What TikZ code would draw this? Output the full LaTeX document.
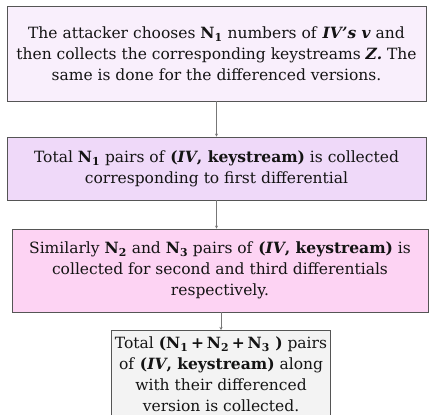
\documentclass[tikz,border=0pt]{standalone}
\usepackage{fontspec}
\setmainfont{DejaVu Serif}
\usetikzlibrary{arrows.meta}
\definecolor{boxA}{HTML}{F9EFFC}
\definecolor{boxB}{HTML}{EFD9F9}
\definecolor{boxC}{HTML}{FDD3F3}
\definecolor{boxD}{HTML}{F3F3F3}
\definecolor{edge}{HTML}{555555}
\newcommand{\Nsub}[1]{\textbf{N\textsubscript{#1}}}
\newcommand{\tplus}{\hspace{0.18em}+\hspace{0.18em}}
\tikzset{
  stepbox/.style={draw=edge, line width=0.9pt, align=center, inner sep=0pt,
    font=\fontsize{15.5pt}{21pt}\selectfont, text=black!92},
  link/.style={draw=edge!80, line width=0.7pt, -{Stealth[length=3pt,width=3pt]}}
}
\begin{document}
\begin{tikzpicture}[x=1pt,y=-1pt]
\useasboundingbox (0,0) rectangle (429,415);
\node[stepbox, fill=boxA, minimum width=419pt, minimum height=95pt] (s1) at (216.5,53.5)
  {The attacker chooses \Nsub{1} numbers of \textbf{\textit{IV's v}} and\\
   then collects the corresponding keystreams \textbf{\textit{Z.}} The\\
   same is done for the differenced versions.};
\node[stepbox, fill=boxB, minimum width=419pt, minimum height=63pt] (s2) at (216.5,168.5)
  {Total \Nsub{1} pairs of \textbf{(\textit{IV}, keystream)} is collected\\
   corresponding to first differential};
\node[stepbox, fill=boxC, minimum width=416pt, minimum height=83pt] (s3) at (220,270.5)
  {Similarly \Nsub{2} and \Nsub{3} pairs of \textbf{(\textit{IV}, keystream)} is\\
   collected for second and third differentials\\
   respectively.};
\node[stepbox, fill=boxD, minimum width=219pt, inner ysep=6pt, anchor=north] (s4) at (221,330)
  {Total \textbf{(N\textsubscript{1}\tplus N\textsubscript{2}\tplus N\textsubscript{3} )} pairs\\
   of \textbf{(\textit{IV}, keystream)} along\\
   with their differenced\\
   version is collected.};
\draw[link] (s1.south) -- (s2.north);
\draw[link] (s2.south) -- (s2.south |- s3.north);
\draw[link] (s3.south -| s4.north) -- (s4.north);
\end{tikzpicture}
\end{document}
